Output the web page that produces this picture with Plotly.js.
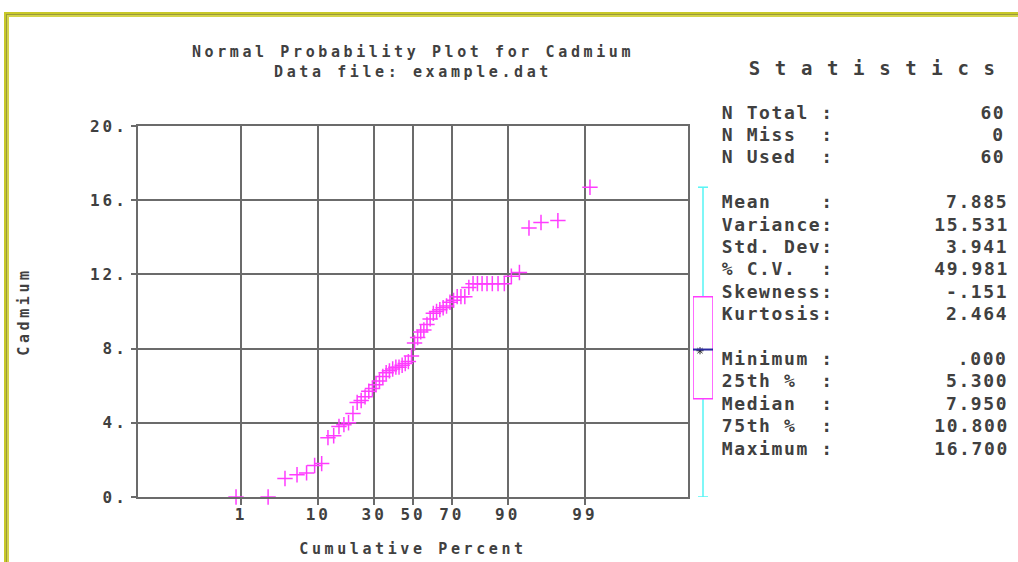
<!DOCTYPE html>
<html>
<head>
<meta charset="utf-8">
<script src="https://cdn.plot.ly/plotly-3.0.1.min.js"></script>
<style>
  html, body { margin: 0; padding: 0; background: #ffffff; }
  #wrap { position: relative; width: 1018px; height: 562px; overflow: hidden; }
  #plot { position: absolute; left: 0; top: 0; width: 1018px; height: 562px; }
  .frame-outer { position: absolute; left: 4px; top: 12px; width: 1100px; height: 700px;
                 border-top: 2px solid #c8c828; border-left: 2px solid #c8c828; pointer-events: none; }
  .frame-mid { position: absolute; left: 6px; top: 14px; width: 1100px; height: 700px;
               border-top: 1px solid #9a9a3a; border-left: 1px solid #9a9a3a; pointer-events: none; }
  .frame-inner { position: absolute; left: 7px; top: 15px; width: 1100px; height: 700px;
                 border-top: 2px solid #d4d44a; border-left: 2px solid #d4d44a; pointer-events: none; }
  #plot .gtitle { letter-spacing: 3.6px; }
  #plot .xtitle, #plot .ytitle { letter-spacing: 3.6px; }
  #plot .xtick text, #plot .ytick text { letter-spacing: 3px; }
  #plot .annotation-text { letter-spacing: 1.6px; }
</style>
</head>
<body>
<div id="wrap">
  <div id="plot"></div>
  <div class="frame-outer"></div>
  <div class="frame-mid"></div>
  <div class="frame-inner"></div>
</div>
<script>
// ---- data (sorted cadmium values, n = 60) ----
const cadmium = [
  0.0, 0.0, 1.0, 1.2, 1.3, 1.7, 1.8, 3.2, 3.3, 3.8,
  3.9, 4.0, 4.5, 5.1, 5.2, 5.4, 5.7, 5.85, 6.05, 6.25,
  6.5, 6.7, 6.8, 6.9, 7.0, 7.0, 7.1, 7.2, 7.3, 7.6,
  8.3, 8.6, 8.9, 9.0, 9.3, 9.6, 9.9, 10.0, 10.1, 10.2,
  10.3, 10.5, 10.6, 10.8, 10.8, 10.8, 11.3, 11.5, 11.5, 11.5,
  11.5, 11.5, 11.5, 11.5, 11.9, 12.1, 14.5, 14.8, 14.9, 16.7
];

const xTickPercents = [1, 10, 30, 50, 70, 90, 99];
const xTickLabels = ['1', '10', '30', '50', '70', '90', '99'];
const yTickValues = [0, 4, 8, 12, 16, 20];
const yTickLabels = ['0.', '4.', '8.', '12.', '16.', '20.'];

// statistics panel (blank entries are spacer rows)
const statLabels = ['N Total :', 'N Miss  :', 'N Used  :', '',
  'Mean    :', 'Variance:', 'Std. Dev:', '% C.V.  :', 'Skewness:', 'Kurtosis:', '',
  'Minimum :', '25th %  :', 'Median  :', '75th %  :', 'Maximum :'];
const statValues = ['60', '0', '60', '',
  '7.885', '15.531', '3.941', '49.981', '-.151', '2.464', '',
  '.000', '5.300', '7.950', '10.800', '16.700'];

// box-plot summary
const boxMin = 0.0;
const boxQ1 = 5.3;
const boxMedian = 7.95;
const boxQ3 = 10.8;
const boxMax = 16.7;
const boxMean = 7.885;

// ---- inverse standard normal CDF (probability-axis scale) ----
function probit(p) {
  const a = [-3.969683028665376e+01, 2.209460984245205e+02, -2.759285104469687e+02,
             1.383577518672690e+02, -3.066479806614716e+01, 2.506628277459239e+00];
  const b = [-5.447609879822406e+01, 1.615858368580409e+02, -1.556989798598866e+02,
             6.680131188771972e+01, -1.328068155288572e+01];
  const c = [-7.784894002430293e-03, -3.223964580411365e-01, -2.400758277161838e+00,
             -2.549732539343734e+00, 4.374664141464968e+00, 2.938163982698783e+00];
  const d = [7.784695709041462e-03, 3.224671290700398e-01, 2.445134137142996e+00,
             3.754408661907416e+00];
  const pl = 0.02425, ph = 1 - pl;
  let q, r;
  if (p < pl) {
    q = Math.sqrt(-2 * Math.log(p));
    return (((((c[0]*q+c[1])*q+c[2])*q+c[3])*q+c[4])*q+c[5]) /
           ((((d[0]*q+d[1])*q+d[2])*q+d[3])*q+1);
  }
  if (p <= ph) {
    q = p - 0.5; r = q * q;
    return (((((a[0]*r+a[1])*r+a[2])*r+a[3])*r+a[4])*r+a[5])*q /
           (((((b[0]*r+b[1])*r+b[2])*r+b[3])*r+b[4])*r+1);
  }
  q = Math.sqrt(-2 * Math.log(1 - p));
  return -(((((c[0]*q+c[1])*q+c[2])*q+c[3])*q+c[4])*q+c[5]) /
          ((((d[0]*q+d[1])*q+d[2])*q+d[3])*q+1);
}

const n = cadmium.length;
const xScores = cadmium.map((v, i) => probit((i + 0.5) / n));
const xTickVals = xTickPercents.map(p => probit(p / 100));

// layout geometry helpers (pixels -> paper)
const W = 1018, H = 562, ML = 138, MR = 5, MT = 126, MB = 65;
const PW = W - ML - MR, PH = H - MT - MB;
const px = v => (v - ML) / PW;
const py = v => (H - MB - v) / PH;

const FONT = 'DejaVu Sans Mono, Liberation Mono, monospace';
const TXT = '#404040';
const GRID = '#6b6b6b';
const MAG = '#ff3cff';
const CYAN = '#55f5f5';

const traces = [
  {
    type: 'scatter', mode: 'markers', x: xScores, y: cadmium,
    xaxis: 'x', yaxis: 'y', cliponaxis: false, hoverinfo: 'y',
    marker: { symbol: 'cross-thin-open', size: 11, color: MAG, line: { color: MAG, width: 1.5 } },
    showlegend: false
  },
  {
    type: 'scatter', mode: 'markers', x: [0.35], y: [boxMean],
    xaxis: 'x2', yaxis: 'y2', cliponaxis: false, hoverinfo: 'y',
    marker: { symbol: 'asterisk-open', size: 6, color: '#202020', line: { color: '#202020', width: 1 } },
    showlegend: false
  }
];

const shapes = [
  // whiskers
  { type: 'line', xref: 'x2', yref: 'y2', x0: 0.5, x1: 0.5, y0: boxQ3, y1: boxMax, line: { color: CYAN, width: 1.5 } },
  { type: 'line', xref: 'x2', yref: 'y2', x0: 0.5, x1: 0.5, y0: boxMin, y1: boxQ1, line: { color: CYAN, width: 1.5 } },
  { type: 'line', xref: 'x2', yref: 'y2', x0: 0.25, x1: 0.75, y0: boxMax, y1: boxMax, line: { color: CYAN, width: 1.5 } },
  { type: 'line', xref: 'x2', yref: 'y2', x0: 0.25, x1: 0.75, y0: boxMin, y1: boxMin, line: { color: CYAN, width: 1.5 } },
  // box
  { type: 'rect', xref: 'x2', yref: 'y2', x0: 0, x1: 1, y0: boxQ1, y1: boxQ3, line: { color: MAG, width: 1.5 }, fillcolor: 'rgba(0,0,0,0)' },
  // median
  { type: 'line', xref: 'x2', yref: 'y2', x0: 0, x1: 1, y0: boxMedian, y1: boxMedian, line: { color: '#2a2aa0', width: 2 } }
];

const annotations = [];
annotations.push({
  xref: 'paper', yref: 'paper', x: px(872), y: py(68), xanchor: 'center', yanchor: 'middle',
  text: 'S t a t i s t i c s', showarrow: false,
  font: { family: FONT, size: 19, color: TXT, weight: 'bold' }
});
statLabels.forEach((lab, k) => {
  if (!lab) return;
  const yy = 112 + k * 22.4;
  annotations.push({
    xref: 'paper', yref: 'paper', x: px(727), y: py(yy), xanchor: 'left', yanchor: 'middle',
    text: lab, showarrow: false, font: { family: FONT, size: 18, color: TXT, weight: 'bold' }
  });
  annotations.push({
    xref: 'paper', yref: 'paper', x: px(1006), y: py(yy), xanchor: 'right', yanchor: 'middle',
    text: statValues[k], showarrow: false, font: { family: FONT, size: 18, color: TXT, weight: 'bold' }
  });
});

const layout = {
  width: W, height: H,
  margin: { l: ML, r: MR, t: MT, b: MB, pad: 0 },
  paper_bgcolor: '#ffffff', plot_bgcolor: '#ffffff',
  font: { family: FONT, color: TXT, size: 15, weight: 'bold' },
  showlegend: false,
  title: {
    text: 'Normal Probability Plot for Cadmium<br>Data file: example.dat',
    xref: 'paper', x: px(413), xanchor: 'center',
    yref: 'container', y: 1 - 57 / H, yanchor: 'middle',
    font: { family: FONT, size: 15, color: TXT, weight: 'bold' }
  },
  xaxis: {
    domain: [0, (688 - ML) / PW], range: [-3.72, 3.72], anchor: 'y',
    tickmode: 'array', tickvals: xTickVals, ticktext: xTickLabels,
    ticks: 'outside', ticklen: 6, tickwidth: 2, tickcolor: GRID,
    ticklabelstandoff: -4,
    tickfont: { family: FONT, size: 16, color: TXT, weight: 'bold' },
    showgrid: true, gridcolor: GRID, gridwidth: 2, zeroline: false,
    showline: true, mirror: true, linecolor: GRID, linewidth: 2,
    title: { text: 'Cumulative Percent', standoff: 20, font: { family: FONT, size: 15, color: TXT, weight: 'bold' } },
    fixedrange: true
  },
  xaxis2: {
    domain: [(693 - ML) / PW, (713 - ML) / PW], range: [0, 1], anchor: 'y2',
    visible: false, showgrid: false, fixedrange: true
  },
  yaxis: {
    domain: [0, 1], range: [0, 20], anchor: 'x',
    tickmode: 'array', tickvals: yTickValues, ticktext: yTickLabels,
    ticks: 'outside', ticklen: 5, tickwidth: 2, tickcolor: GRID,
    tickfont: { family: FONT, size: 16, color: TXT, weight: 'bold' },
    showgrid: true, gridcolor: GRID, gridwidth: 2, zeroline: false,
    showline: true, mirror: true, linecolor: GRID, linewidth: 2,
    title: { text: 'Cadmium', standoff: 66, font: { family: FONT, size: 15, color: TXT, weight: 'bold' } },
    fixedrange: true
  },
  yaxis2: {
    domain: [0, 1], range: [0, 20], anchor: 'x2',
    visible: false, showgrid: false, zeroline: false, fixedrange: true
  },
  shapes: shapes,
  annotations: annotations
};

Plotly.newPlot('plot', traces, layout, { displayModeBar: false, staticPlot: true });
</script>
</body>
</html>
